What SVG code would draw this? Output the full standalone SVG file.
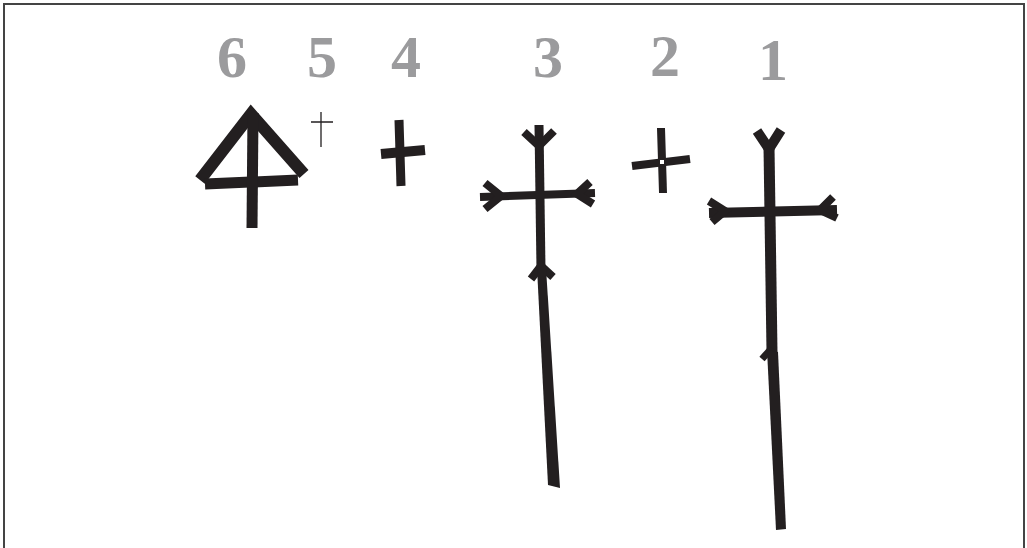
<svg xmlns="http://www.w3.org/2000/svg" width="1027" height="548" viewBox="0 0 1027 548">
<style>
.lbl{font-family:"Liberation Serif","DejaVu Serif",serif;font-weight:bold;font-size:60px;fill:#9b9b9d;text-anchor:middle}
.ink{fill:none;stroke:#231f20;stroke-linecap:butt;stroke-linejoin:miter}
.solid{fill:#231f20}
</style>
<rect x="4" y="4" width="1020" height="600" fill="#fff" stroke="#444" stroke-width="2"/>
<g id="labels">
<text class="lbl" x="232" y="77">6</text>
<text class="lbl" x="322" y="77">5</text>
<text class="lbl" x="406" y="77">4</text>
<text class="lbl" x="548" y="77">3</text>
<text class="lbl" x="665" y="76">2</text>
<text class="lbl" x="773" y="80">1</text>
</g>
<g id="cross6">
<path class="ink" stroke-width="12" d="M200,180 L251,114 L304,174"/>
<path class="ink" stroke-width="11" d="M205,184 L298,180"/>
<path class="ink" stroke-width="11" d="M253,113 L252,228"/>
</g>
<g id="cross5">
<path class="ink" stroke-width="1.3" d="M321,112 V147 M311,122 H333"/>
</g>
<g id="cross4">
<path class="ink" stroke-width="9" d="M399,120 L401,186"/>
<path class="ink" stroke-width="10" d="M381,154 L425,150"/>
</g>
<g id="cross3">
<path class="ink" stroke-width="9" d="M539,125 L541,270"/>
<path class="ink" stroke-width="8" d="M524,132 L539,146 L554,131"/>
<path class="ink" stroke-width="8" d="M480,197 L595,193"/>
<path class="ink" stroke-width="8" d="M485,183 L501,196 L485,209"/>
<path class="ink" stroke-width="8" d="M590,182 L577,194 L593,204"/>
<path class="ink" stroke-width="8" d="M531,279 L541,266 L553,277"/>
<polygon class="solid" points="537,268 546,268 560,488 548,485"/>
</g>
<g id="cross2">
<path class="ink" stroke-width="8" d="M661,128 L663,193"/>
<path class="ink" stroke-width="8" d="M632,166 L690,159"/>
<rect x="660" y="160" width="4" height="4" fill="#fff"/>
</g>
<g id="cross1">
<path class="ink" stroke-width="10" d="M757,131 L769,149 L781,130"/>
<path class="ink" stroke-width="11" d="M769,147 L772,352"/>
<path class="ink" stroke-width="10" d="M709,213 L837,210"/>
<path class="ink" stroke-width="8" d="M709,201 L725,211 L712,222"/>
<path class="ink" stroke-width="8" d="M833,197 L820,210 L837,218"/>
<path class="ink" stroke-width="7" d="M762,359 L772,348"/>
<polygon class="solid" points="767,350 778,352 786,529 776,530"/>
</g>
</svg>
